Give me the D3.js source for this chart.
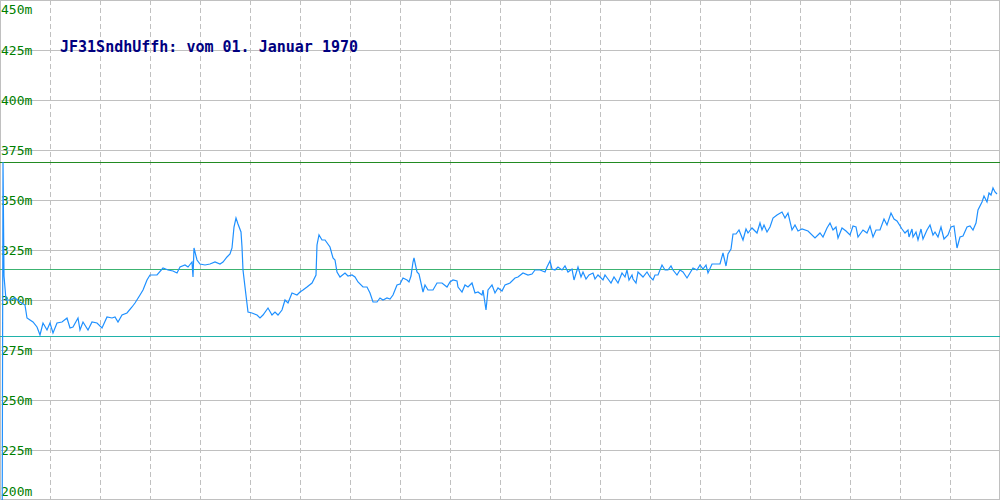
<!DOCTYPE html>
<html>
<head>
<meta charset="utf-8">
<script src="https://cdn.jsdelivr.net/npm/d3@7"></script>
<style>
  body { margin: 0; background: #fff; }
  svg { display: block; }
</style>
</head>
<body>
<svg id="chart"></svg>
<script>
// titel en achsen
const title = "JF31SndhUffh: vom 01. Januar 1970";
const yTicks = [200, 225, 250, 275, 300, 325, 350, 375, 400, 425, 450];
const xGrid = [50, 100, 150, 200, 250, 300, 350, 400, 450, 500, 550, 600, 650, 700, 750, 800, 850, 900, 950];

// referenzlinien (max, mittel, min)
const maxLevel = 369;
const avgLevel = 315.5;
const minLevel = 282;

// messpunkte: position en pegel (m)
const pos = [1, 2, 3, 4, 6, 10, 15, 20, 25, 27, 30, 33, 37, 40, 43, 47, 50, 53, 57, 62, 67, 70, 73, 78, 80, 83, 88, 92, 97,
  102, 107, 112, 115, 118, 122, 127, 132, 135, 140, 143, 147, 150, 157, 163, 168, 173, 177, 180, 185, 188, 192, 193, 194, 197,
  200, 205, 210, 215, 220, 223, 227, 230, 232, 234, 236, 238, 241, 242, 243, 245, 248, 252, 257, 260, 263, 268, 272, 275, 278,
  282, 285, 288, 292, 297, 300, 303, 307, 312, 316, 317, 319, 322, 325, 330, 333, 335, 337, 340, 345, 348, 352, 355, 358,
  363, 367, 370, 373, 377, 380, 383, 387, 390, 393, 397, 400, 403, 407, 409, 411, 413, 414, 417, 419, 423, 425, 428, 433,
  437, 442, 447, 450, 453, 457, 458, 462, 465, 468, 472, 475, 478, 482, 483, 486, 488, 492, 495, 498, 502, 505, 510, 515,
  518, 523, 528, 532, 535, 540, 545, 547, 550, 552, 555, 558, 562, 565, 568, 572, 574, 578, 581, 583, 586, 589, 593, 595,
  598, 603, 605, 608, 611, 614, 618, 622, 625, 627, 629, 632, 633, 636, 638, 641, 643, 647, 650, 653, 655, 658, 662, 665,
  668, 671, 673, 677, 680, 683, 687, 690, 693, 697, 700, 703, 706, 708, 712, 720, 723, 726, 728, 731, 733, 736, 739, 743,
  746, 748, 752, 757, 760, 762, 764, 767, 770, 773, 777, 782, 785, 788, 792, 795, 798, 802, 808, 815, 820, 823, 827, 830,
  833, 836, 838, 842, 846, 850, 853, 856, 858, 863, 867, 870, 873, 876, 880, 884, 887, 891, 894, 897, 902, 905, 908, 909,
  912, 913, 916, 918, 921, 923, 927, 930, 933, 935, 938, 941, 944, 948, 951, 954, 957, 960, 963, 967, 970, 973, 976, 978,
  982, 984, 987, 989, 991, 993, 995, 997];
const level = [150, 150, 369, 312, 300, 300, 301, 299, 297.5, 291, 290, 289, 286.5, 282.5, 288.5, 285, 288.5, 283.5, 288.5, 289, 291, 286, 286.5, 291, 285, 289, 285, 289, 288.5,
  286, 291.5, 291, 291.5, 289, 292.5, 293.5, 296.5, 298.5, 302.5, 305, 310, 312.5, 312.5, 316, 315, 314.5, 313.5, 316.5, 317.5, 316.5, 319, 311.5, 326, 320,
  318, 317.5, 318, 319, 318, 319, 321.5, 323, 326, 336.5, 341, 338, 334, 326.5, 315, 306.5, 294, 293.5, 292.5, 291, 292.5, 296, 292.5, 294, 292.5,
  295, 300, 298.5, 303.5, 302.5, 304, 305, 306.5, 308.5, 312.5, 327.5, 332.5, 330, 330, 326.5, 321, 320, 314, 311.5, 313.5, 312, 312.5, 311.5, 309,
  306.5, 306.5, 303.5, 299, 299, 301, 300, 301, 300.5, 302.5, 307.5, 308, 311, 310, 309, 312, 319, 321, 314, 313, 304, 307.5, 305, 305,
  308.5, 308.5, 306.5, 309, 310, 309.5, 306.5, 304, 307.5, 306.5, 308.5, 303.5, 304, 302.5, 305, 295, 305, 307.5, 303.5, 306, 304.5, 307.5, 308.5, 311,
  311.5, 313.5, 312.5, 313, 315, 315, 314, 316.5, 319.5, 315.5, 315, 316.5, 315, 317, 314, 315.5, 310, 316.5, 311.5, 314, 310.5, 312.5, 313.5, 310.5,
  312.5, 310, 312.5, 310.5, 308.5, 311.5, 308.5, 313.5, 311.5, 315, 310, 312.5, 310.5, 308.5, 314, 312.5, 311.5, 314, 311.5, 310, 312.5, 312.5, 317.5, 315,
  315, 317, 315, 312.5, 315, 314, 311, 313.5, 316, 315, 317.5, 315.5, 317.5, 313.5, 318, 318, 323.5, 317, 323, 325.5, 333, 333, 335, 330,
  335.5, 333.5, 336, 333.5, 338.5, 335, 337.5, 334, 336.5, 341, 342.5, 344, 341, 343.5, 335, 337.5, 334.5, 335.5, 334.5, 331, 333.5, 331.5, 336, 338.5,
  335, 336.5, 331, 336, 334.5, 332.5, 337, 336.5, 331.5, 335, 333.5, 337, 331.5, 335, 335, 340.5, 337.5, 343.5, 340.5, 339.5, 335.5, 333.5, 335, 331.5,
  335.5, 331.5, 334, 330, 335.5, 330.5, 335, 337.5, 332.5, 334, 331.5, 336.5, 330.5, 332.5, 336.5, 337, 326, 331.5, 332, 336.5, 337, 335, 338.5, 345,
  349, 352, 349, 353.5, 352.5, 356, 354, 353];

const width = 1000, height = 500;

const svg = d3.select('#chart')
  .attr('width', width)
  .attr('height', height);

const x = d3.scaleLinear().domain([0, 1000]).range([0, width]);
const y = d3.scaleLinear().domain([200, 450]).range([height, 0]);

// pixelgenau zeichnen
const px = v => Math.min(Math.max(Math.round(v), 0), height - 1) + 0.5;

// horizontale rasterlinien
svg.append('g')
  .selectAll('line')
  .data(yTicks)
  .join('line')
  .attr('x1', 0)
  .attr('x2', width)
  .attr('y1', d => px(y(d)))
  .attr('y2', d => px(y(d)))
  .attr('stroke', '#c0c0c0')
  .attr('stroke-width', 1);

// vertikale gestrichelte rasterlinien
svg.append('g')
  .selectAll('line')
  .data(xGrid)
  .join('line')
  .attr('x1', d => Math.round(x(d)) + 0.5)
  .attr('x2', d => Math.round(x(d)) + 0.5)
  .attr('y1', 0)
  .attr('y2', height)
  .attr('stroke', '#c0c0c0')
  .attr('stroke-width', 1)
  .attr('stroke-dasharray', '5,3');

// rahmen
svg.append('rect')
  .attr('x', 0.5)
  .attr('y', 0.5)
  .attr('width', width - 1)
  .attr('height', height - 1)
  .attr('fill', 'none')
  .attr('stroke', '#c0c0c0');

// referenzlinien
const refs = [
  { v: maxLevel, c: '#228b22' },
  { v: avgLevel, c: '#3cb371' },
  { v: minLevel, c: '#20b2aa' }
];
svg.append('g')
  .selectAll('line')
  .data(refs)
  .join('line')
  .attr('x1', 0)
  .attr('x2', width)
  .attr('y1', d => px(y(d.v)))
  .attr('y2', d => px(y(d.v)))
  .attr('stroke', d => d.c)
  .attr('stroke-width', 1);

// y beschriftung
svg.append('g')
  .selectAll('text')
  .data(yTicks)
  .join('text')
  .attr('x', 1)
  .attr('y', d => Math.min(Math.max(y(d), 9), 491))
  .attr('dy', '0.36em')
  .attr('fill', '#008000')
  .attr('font-family', '"DejaVu Sans Mono", monospace')
  .attr('font-size', '13px')
  .text(d => d + 'm');

// messkurve
const points = pos.map((p, i) => [p, level[i]]);
svg.append('defs').append('clipPath')
  .attr('id', 'clip')
  .append('rect')
  .attr('x', 0).attr('y', 0)
  .attr('width', width).attr('height', height);

svg.append('path')
  .datum(points)
  .attr('clip-path', 'url(#clip)')
  .attr('fill', 'none')
  .attr('stroke', '#1e90ff')
  .attr('stroke-width', 1.2)
  .attr('d', d3.line().x(d => x(d[0])).y(d => y(d[1])));

// titel
svg.append('text')
  .attr('x', 60)
  .attr('y', 52)
  .attr('fill', '#000080')
  .attr('font-family', '"DejaVu Sans Mono", monospace')
  .attr('font-weight', 'bold')
  .attr('font-size', '15px')
  .text(title);
</script>
</body>
</html>
